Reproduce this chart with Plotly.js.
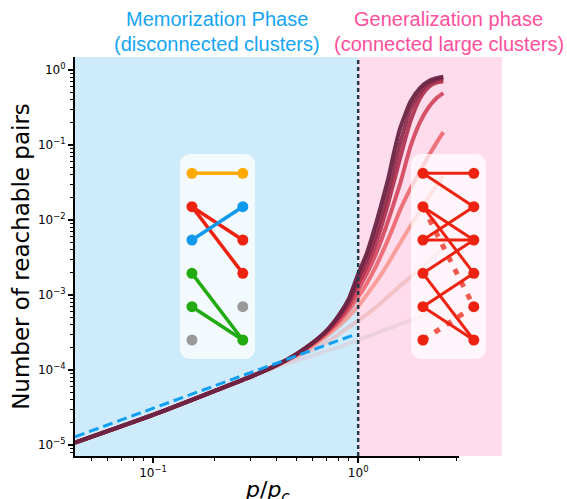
<!DOCTYPE html>
<html><head><meta charset="utf-8">
<script src="https://cdn.plot.ly/plotly-3.0.1.min.js"></script>
<style>html,body{margin:0;padding:0;background:#fff}</style>
</head><body>
<div id="chart" style="width:567px;height:499px"></div>
<script>
// ---------- data ----------
const ratio = [0.0417, 0.1, 0.2, 0.3, 0.4, 0.5, 0.6, 0.7, 0.8, 0.9, 1.0, 1.1, 1.2, 1.3, 1.4, 1.5, 1.6, 1.8, 2.0, 2.2, 2.4, 2.6];
const pairs1 = [1.07e-5, 2.51e-5, 5.25e-5, 8.13e-5, 1.15e-4, 1.62e-4, 2.29e-4, 3.31e-4, 5.25e-4, 8.91e-4, 1.91e-3, 3.55e-3, 7.59e-3, 1.66e-2, 3.55e-2, 8.32e-2, 0.166, 0.380, 0.575, 0.708, 0.776, 0.813];
const pairs2 = [1.07e-5, 2.51e-5, 5.25e-5, 8.13e-5, 1.15e-4, 1.62e-4, 2.29e-4, 3.31e-4, 5.01e-4, 8.32e-4, 1.66e-3, 2.95e-3, 5.62e-3, 1.15e-2, 2.40e-2, 5.25e-2, 0.105, 0.302, 0.501, 0.661, 0.741, 0.776];
const pairs3 = [1.07e-5, 2.51e-5, 5.25e-5, 8.13e-5, 1.15e-4, 1.62e-4, 2.29e-4, 3.24e-4, 4.90e-4, 7.76e-4, 1.41e-3, 2.40e-3, 4.27e-3, 8.32e-3, 1.66e-2, 3.39e-2, 6.61e-2, 0.209, 0.417, 0.589, 0.676, 0.708];
const pairs4 = [1.07e-5, 2.51e-5, 5.25e-5, 8.13e-5, 1.15e-4, 1.62e-4, 2.24e-4, 3.16e-4, 4.57e-4, 6.92e-4, 1.17e-3, 1.91e-3, 3.16e-3, 5.50e-3, 9.77e-3, 1.74e-2, 3.02e-2, 9.55e-2, 0.200, 0.316, 0.417, 0.490];
const pairs5 = [1.07e-5, 2.51e-5, 5.25e-5, 8.13e-5, 1.15e-4, 1.58e-4, 2.19e-4, 3.02e-4, 4.27e-4, 6.17e-4, 9.33e-4, 1.41e-3, 2.19e-3, 3.47e-3, 5.50e-3, 8.71e-3, 1.35e-2, 2.63e-2, 4.47e-2, 7.08e-2, 0.105, 0.148];
const pairs6 = [1.07e-5, 2.51e-5, 5.25e-5, 8.13e-5, 1.15e-4, 1.55e-4, 2.09e-4, 2.82e-4, 3.80e-4, 5.13e-4, 7.08e-4, 1.00e-3, 1.38e-3, 1.91e-3, 2.63e-3, 3.63e-3, 4.90e-3, 8.32e-3, 1.32e-2, 2.00e-2, 2.82e-2, 3.80e-2];
const pairs7 = [1.07e-5, 2.51e-5, 5.25e-5, 8.13e-5, 1.12e-4, 1.48e-4, 1.86e-4, 2.34e-4, 2.95e-4, 3.72e-4, 4.57e-4, 5.50e-4, 6.61e-4, 7.94e-4, 9.55e-4, 1.12e-3, 1.32e-3, 1.74e-3, 2.24e-3, 2.82e-3, 3.47e-3, 4.17e-3];
const pairs8 = [1.07e-5, 2.51e-5, 5.25e-5, 8.13e-5, 1.10e-4, 1.32e-4, 1.55e-4, 1.78e-4, 2.00e-4, 2.24e-4, 2.51e-4, 2.75e-4, 3.02e-4, 3.31e-4, 3.55e-4, 3.80e-4, 4.07e-4, 4.57e-4, 5.13e-4, 5.62e-4, 6.17e-4, 6.76e-4];
const curveColors = ['#6a2444', '#8a2646', '#ab2c4b', '#cf3a51', '#e9565d', '#f88a82', '#e8b2b0', '#dcc8cc'];
const curveOpacity = [0.95, 0.9, 0.9, 0.85, 0.8, 0.75, 0.6, 0.5];

const fitRatio = [0.0417, 0.96];
const fitPairs = [1.28e-5, 2.95e-4];

const xTickVals = [0.1, 1];
const xTickText = ['10<sup>−1</sup>', '10<sup>0</sup>'];
const yTickVals = [1e-5, 1e-4, 1e-3, 1e-2, 1e-1, 1];
const yTickText = ['10<sup>−5</sup>', '10<sup>−4</sup>', '10<sup>−3</sup>', '10<sup>−2</sup>', '10<sup>−1</sup>', '10<sup>0</sup>'];
const xMinor = [0.05, 0.06, 0.07, 0.08, 0.09, 0.2, 0.3, 0.4, 0.5, 0.6, 0.7, 0.8, 0.9, 2, 3];
const yMinor = [8e-6, 9e-6, 2e-5, 3e-5, 4e-5, 5e-5, 6e-5, 7e-5, 8e-5, 9e-5, 2e-4, 3e-4, 4e-4, 5e-4, 6e-4, 7e-4, 8e-4, 9e-4,
  2e-3, 3e-3, 4e-3, 5e-3, 6e-3, 7e-3, 8e-3, 9e-3, 2e-2, 3e-2, 4e-2, 5e-2, 6e-2, 7e-2, 8e-2, 9e-2, 2e-1, 3e-1, 4e-1, 5e-1, 6e-1, 7e-1, 8e-1, 9e-1];

// schematic graphs (column 0 = left nodes, column 1 = right nodes; rows 0..5)
const nodeRows = [0, 1, 2, 3, 4, 5];
const memLeftColors = ['#ffaa00', '#ee2211', '#1199ee', '#22aa11', '#22aa11', '#999999'];
const memRightColors = ['#ffaa00', '#1199ee', '#ee2211', '#ee2211', '#999999', '#22aa11'];
const memEdges = [[1, 2, '#ee2211'], [1, 3, '#ee2211'], [2, 1, '#1199ee'], [0, 0, '#ffaa00'], [3, 5, '#22aa11'], [4, 5, '#22aa11']];
const genNodeColor = '#ee2211';
const genEdges = [[0, 0], [0, 1], [1, 2], [1, 3], [2, 1], [2, 2], [3, 2], [3, 5], [4, 3], [4, 5]];
const genDotted = [[1, 4], [5, 4]];

// ---------- layout geometry ----------
const W = 567, H = 499, mL = 75, mR = 65, mT = 57, mB = 43;
const plotW = W - mL - mR, plotH = H - mT - mB;
const xDomEnd = (459 - mL) / plotW;
const xRange = [Math.log10(0.0417), Math.log10(3.1)];
const yRange = [Math.log10(7.1e-6), Math.log10(1.49)];
const pxX = px => (px - mL) / plotW;
const pxY = py => (H - mB - py) / plotH;
const xPaper = v => xDomEnd * (Math.log10(v) - xRange[0]) / (xRange[1] - xRange[0]);

// inset panel outline (rounded rectangle in inset-axis units)
const insetXR = [-0.235, 1.24], insetYR = [5.57, -0.58];
const boxWpx = 75, boxHpx = 205, cornerPx = 10;
function roundedBox() {
  const x0 = insetXR[0], x1 = insetXR[1], y0 = insetYR[1], y1 = insetYR[0];
  const rx = cornerPx * (x1 - x0) / boxWpx, ry = cornerPx * (y1 - y0) / boxHpx;
  const corners = [[x1 - rx, y0 + ry, -90], [x1 - rx, y1 - ry, 0], [x0 + rx, y1 - ry, 90], [x0 + rx, y0 + ry, 180]];
  const xs = [], ys = [];
  corners.forEach(c => { for (let k = 0; k <= 8; k++) { const a = (c[2] + k * 90 / 8) * Math.PI / 180; xs.push(c[0] + rx * Math.cos(a)); ys.push(c[1] + ry * Math.sin(a)); } });
  xs.push(xs[0]); ys.push(ys[0]);
  return {xs, ys};
}
const box = roundedBox();

const allPairs = [pairs1, pairs2, pairs3, pairs4, pairs5, pairs6, pairs7, pairs8];
const traces = [];
for (let i = allPairs.length - 1; i >= 0; i--) {
  traces.push({x: ratio, y: allPairs[i], type: 'scatter', mode: 'lines', xaxis: 'x', yaxis: 'y',
    line: {color: curveColors[i], width: 4, shape: 'spline', smoothing: 0.6}, opacity: curveOpacity[i],
    showlegend: false, hoverinfo: 'skip'});
}
traces.push({x: fitRatio, y: fitPairs, type: 'scatter', mode: 'lines', xaxis: 'x', yaxis: 'y',
  line: {color: '#129ff2', width: 3, dash: '10px,5px'}, showlegend: false, hoverinfo: 'skip'});

// memorization schematic (x2/y2)
traces.push({x: box.xs, y: box.ys, xaxis: 'x2', yaxis: 'y2', type: 'scatter', mode: 'lines', fill: 'toself',
  fillcolor: 'rgba(255,255,255,0.75)', line: {width: 0, color: 'rgba(0,0,0,0)'}, showlegend: false, hoverinfo: 'skip', cliponaxis: false});
memEdges.forEach(e => traces.push({x: [0, 1], y: [e[0], e[1]], xaxis: 'x2', yaxis: 'y2', type: 'scatter', mode: 'lines',
  line: {color: e[2], width: 3.5}, showlegend: false, hoverinfo: 'skip', cliponaxis: false}));
traces.push({x: nodeRows.map(() => 0), y: nodeRows, xaxis: 'x2', yaxis: 'y2', type: 'scatter', mode: 'markers',
  marker: {size: 11, color: memLeftColors}, showlegend: false, hoverinfo: 'skip', cliponaxis: false});
traces.push({x: nodeRows.map(() => 1), y: nodeRows, xaxis: 'x2', yaxis: 'y2', type: 'scatter', mode: 'markers',
  marker: {size: 11, color: memRightColors}, showlegend: false, hoverinfo: 'skip', cliponaxis: false});

// generalization schematic (x3/y3)
traces.push({x: box.xs, y: box.ys, xaxis: 'x3', yaxis: 'y3', type: 'scatter', mode: 'lines', fill: 'toself',
  fillcolor: 'rgba(255,255,255,0.72)', line: {width: 0, color: 'rgba(0,0,0,0)'}, showlegend: false, hoverinfo: 'skip', cliponaxis: false});
genDotted.forEach(e => traces.push({x: [0, 1], y: [e[0], e[1]], xaxis: 'x3', yaxis: 'y3', type: 'scatter', mode: 'lines',
  line: {color: 'rgba(236,50,35,0.8)', width: 5, dash: '6px,8px'}, showlegend: false, hoverinfo: 'skip', cliponaxis: false}));
genEdges.forEach(e => traces.push({x: [0, 1], y: [e[0], e[1]], xaxis: 'x3', yaxis: 'y3', type: 'scatter', mode: 'lines',
  line: {color: genNodeColor, width: 3}, showlegend: false, hoverinfo: 'skip', cliponaxis: false}));
traces.push({x: nodeRows.map(() => 0).concat(nodeRows.map(() => 1)), y: nodeRows.concat(nodeRows), xaxis: 'x3', yaxis: 'y3',
  type: 'scatter', mode: 'markers', marker: {size: 11, color: genNodeColor}, showlegend: false, hoverinfo: 'skip', cliponaxis: false});

const insetAxis = (dom, rng) => ({domain: dom, range: rng, visible: false, fixedrange: true, showgrid: false, zeroline: false});
const tickFont = {family: 'DejaVu Sans', size: 12, color: '#000'};

const layout = {
  width: W, height: H,
  margin: {l: mL, r: mR, t: mT, b: mB, pad: 0},
  paper_bgcolor: '#ffffff', plot_bgcolor: 'rgba(0,0,0,0)',
  showlegend: false,
  xaxis: {type: 'log', range: xRange, domain: [0, xDomEnd], anchor: 'y',
    tickvals: xTickVals, ticktext: xTickText, ticks: 'outside', ticklen: 5, tickwidth: 1.5, tickcolor: '#000',
    showline: true, linewidth: 2, linecolor: '#000', showgrid: false, zeroline: false, tickfont: tickFont,
    minor: {tickvals: xMinor, ticks: 'outside', ticklen: 3, tickwidth: 1, tickcolor: '#000', showgrid: false},
    automargin: false},
  yaxis: {type: 'log', range: yRange, domain: [0, 1], anchor: 'x',
    tickvals: yTickVals, ticktext: yTickText, ticks: 'outside', ticklen: 5, tickwidth: 1.5, tickcolor: '#000',
    showline: true, linewidth: 2, linecolor: '#000', showgrid: false, zeroline: false, tickfont: tickFont,
    minor: {tickvals: yMinor, ticks: 'outside', ticklen: 3, tickwidth: 1, tickcolor: '#000', showgrid: false},
    title: {text: 'Number of reachable pairs', font: {family: 'DejaVu Sans', size: 23, color: '#000'}, standoff: 2},
    automargin: false},
  xaxis2: Object.assign(insetAxis([pxX(180), pxX(255)], insetXR), {anchor: 'y2'}),
  yaxis2: Object.assign(insetAxis([pxY(359), pxY(154)], insetYR), {anchor: 'x2'}),
  xaxis3: Object.assign(insetAxis([pxX(411), pxX(486)], insetXR), {anchor: 'y3'}),
  yaxis3: Object.assign(insetAxis([pxY(359), pxY(154)], insetYR), {anchor: 'x3'}),
  shapes: [
    {type: 'rect', xref: 'paper', yref: 'paper', x0: 0, x1: xPaper(1), y0: 0, y1: 1,
      fillcolor: 'rgb(206,235,252)', line: {width: 0}, layer: 'below'},
    {type: 'rect', xref: 'paper', yref: 'paper', x0: xPaper(1), x1: 1, y0: 0, y1: 1,
      fillcolor: 'rgb(255,220,236)', line: {width: 0}, layer: 'below'},
    {type: 'line', xref: 'x', yref: 'paper', x0: 1, x1: 1, y0: 0, y1: 1,
      line: {color: '#26384a', width: 2.5, dash: '4px,3px'}, layer: 'above'}
  ],
  annotations: [
    {text: 'Memorization Phase', x: pxX(217), y: pxY(19), xref: 'paper', yref: 'paper', showarrow: false,
      xanchor: 'center', yanchor: 'middle', font: {family: 'Liberation Sans, Arial', size: 20, color: '#14a5f4'}},
    {text: '(disconnected clusters)', x: pxX(216.5), y: pxY(44), xref: 'paper', yref: 'paper', showarrow: false,
      xanchor: 'center', yanchor: 'middle', font: {family: 'Liberation Sans, Arial', size: 20, color: '#14a5f4'}},
    {text: 'Generalization phase', x: pxX(448.5), y: pxY(19), xref: 'paper', yref: 'paper', showarrow: false,
      xanchor: 'center', yanchor: 'middle', font: {family: 'Liberation Sans, Arial', size: 20, color: '#ff4f9c'}},
    {text: '(connected large clusters)', x: pxX(448.5), y: pxY(44), xref: 'paper', yref: 'paper', showarrow: false,
      xanchor: 'center', yanchor: 'middle', font: {family: 'Liberation Sans, Arial', size: 20, color: '#ff4f9c'}},
    {text: '<i>p</i>/<i>p</i><sub><i>c</i></sub>', x: pxX(267), y: pxY(491), xref: 'paper', yref: 'paper', showarrow: false,
      xanchor: 'center', yanchor: 'middle', font: {family: 'DejaVu Sans', size: 22, color: '#000'}}
  ]
};

Plotly.newPlot('chart', traces, layout, {displayModeBar: false, staticPlot: true});
</script>
</body></html>
